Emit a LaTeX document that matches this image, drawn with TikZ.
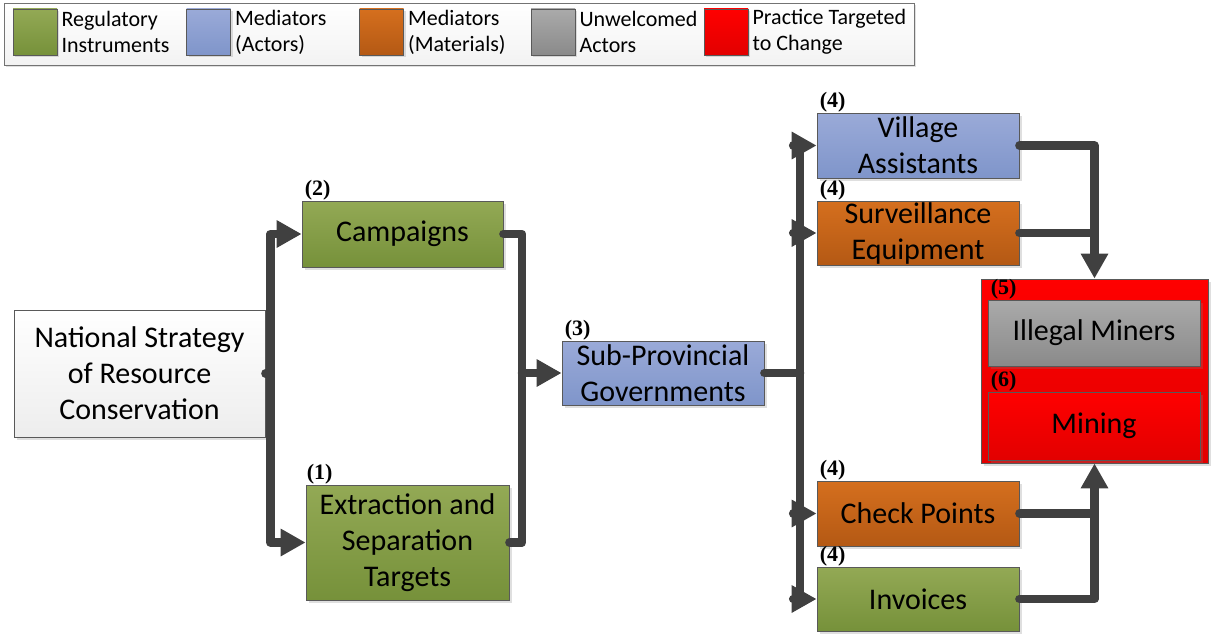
\documentclass[tikz,border=0pt]{standalone}
\usepackage{fontspec}
\setmainfont{Carlito}
\newfontfamily\numfont{Liberation Serif}
\usetikzlibrary{arrows.meta, positioning, shadows}

\definecolor{greentop}{HTML}{93A955}
\definecolor{greenbot}{HTML}{76913A}
\definecolor{bluetop}{HTML}{9AAAD8}
\definecolor{bluebot}{HTML}{7F95CA}
\definecolor{orangetop}{HTML}{D56F1E}
\definecolor{orangebot}{HTML}{B45914}
\definecolor{graytop}{HTML}{AAAAAA}
\definecolor{graybot}{HTML}{8A8A8A}
\definecolor{redtop}{HTML}{FF0000}
\definecolor{redbot}{HTML}{E20000}
\definecolor{linegray}{HTML}{404040}

\tikzset{
  box/.style={draw=black!65, line width=0.8pt, inner sep=0pt, align=center,
    font=\fontsize{30}{36}\selectfont,
    drop shadow={shadow xshift=3pt, shadow yshift=-3pt, opacity=0.25}},
  plain/.style={box, top color=white, bottom color=black!7},
  regul/.style={box, top color=greentop, bottom color=greenbot},
  actor/.style={box, top color=bluetop, bottom color=bluebot},
  material/.style={box, top color=orangetop, bottom color=orangebot},
  unwelcome/.style={box, top color=graytop, bottom color=graybot},
  practice/.style={box, top color=redtop, bottom color=redbot},
  swatch/.style={draw=black!65, line width=0.8pt, minimum width=44, minimum height=46,
    drop shadow={shadow xshift=2pt, shadow yshift=-2pt, opacity=0.25}},
  legtext/.style={inner sep=0pt, align=left, font=\fontsize{22}{26}\selectfont},
  numlabel/.style={inner sep=0pt, anchor=south west, font=\numfont\bfseries\fontsize{22}{22}\selectfont},
  conn/.style={draw=linegray, line width=8.5pt, line cap=round, line join=round},
  toarrow/.style={-{Triangle[length=25pt,width=26pt]}},
}

\begin{document}
\begin{tikzpicture}[x=1pt, y=-1pt]
  \useasboundingbox (0,0) rectangle (1212,634);

  % legend
  \node[draw=black!55, line width=0.8pt, top color=white, bottom color=black!5,
        minimum width=910, minimum height=62, inner sep=0pt,
        drop shadow={shadow xshift=2pt, shadow yshift=-2pt, opacity=0.25}] (legend) at (459,34) {};
  \node[swatch, top color=greentop, bottom color=greenbot] (sw1) at (35,32) {};
  \node[swatch, top color=bluetop, bottom color=bluebot] (sw2) at (208.5,32) {};
  \node[swatch, top color=orangetop, bottom color=orangebot] (sw3) at (381.5,32) {};
  \node[swatch, top color=graytop, bottom color=graybot] (sw4) at (553,32) {};
  \node[swatch, top color=redtop, bottom color=redbot] (sw5) at (726,32) {};
  \node[legtext, right=4pt of sw1] (lt1) {Regulatory\\Instruments};
  \node[legtext, right=4pt of sw2] (lt2) {Mediators\\(Actors)};
  \node[legtext, right=4pt of sw3] (lt3) {Mediators\\(Materials)};
  \node[legtext, right=4pt of sw4] (lt4) {Unwelcomed\\Actors};
  \node[legtext, right=4pt of sw5] (lt5) {Practice Targeted\\to Change};

  % boxes
  \node[plain, minimum width=251, minimum height=127] (nat) at (139.5,373.5)
    {National Strategy\\of Resource\\Conservation};
  \node[regul, minimum width=201, minimum height=66] (camp) at (402.5,234) {Campaigns};
  \node[regul, minimum width=203, minimum height=115] (extr) at (407.5,542.5)
    {Extraction and\\Separation\\Targets};
  \node[actor, minimum width=202, minimum height=64] (subprov) at (663,373)
    {Sub-Provincial\\Governments};
  \node[actor, minimum width=202, minimum height=65] (vill) at (918,145.5)
    {Village\\Assistants};
  \node[material, minimum width=202, minimum height=64] (surv) at (918,233)
    {Surveillance\\Equipment};
  \node[material, minimum width=202, minimum height=65] (check) at (918,513.5) {Check Points};
  \node[regul, minimum width=202, minimum height=64] (invoice) at (918,599) {Invoices};
  \node[practice, minimum width=227, minimum height=184] (target) at (1094.5,371) {};
  \node[unwelcome, minimum width=212, minimum height=66] (miners) at (1094,333) {Illegal Miners};
  \node[practice, minimum width=212, minimum height=68] (mining) at (1094,426) {Mining};

  % numbers
  \node[numlabel] (ncamp) at ([xshift=3pt]camp.north west) {(2)};
  \node[numlabel] (nextr) at ([xshift=1pt]extr.north west) {(1)};
  \node[numlabel] (nsub) at ([xshift=3pt]subprov.north west) {(3)};
  \node[numlabel] (nvill) at ([xshift=3pt]vill.north west) {(4)};
  \node[numlabel] (nsurv) at ([xshift=3pt]surv.north west) {(4)};
  \node[numlabel] (ncheck) at ([xshift=3pt]check.north west) {(4)};
  \node[numlabel] (ninv) at ([xshift=3pt]invoice.north west) {(4)};
  \node[numlabel] (nminers) at ([xshift=3pt]miners.north west) {(5)};
  \node[numlabel] (nmining) at ([xshift=3pt]mining.north west) {(6)};

  % connectors
  \coordinate (jl) at (522,373);
  \coordinate (jr) at (800,373);

  \path[conn] (nat.east) -- ++(5,0) coordinate (bus);
  \path[conn, toarrow] (bus) |- (camp.west);
  \path[conn, toarrow] (bus) |- (extr.west);

  \path[conn] (camp.east) -| (jl);
  \path[conn] (extr.east) -| (jl);
  \path[conn, toarrow] (jl) -- (subprov.west);

  \path[conn] (subprov.east) -- (jr);
  \path[conn, toarrow] (jr) |- (vill.west);
  \path[conn, toarrow] (jr) |- (surv.west);
  \path[conn, toarrow] (jr) |- (check.west);
  \path[conn, toarrow] (jr) |- (invoice.west);

  \path[conn, toarrow] (vill.east) -| (target.north);
  \path[conn] (surv.east) -- (surv.east -| target.north);
  \path[conn, toarrow] (invoice.east) -| (target.south);
  \path[conn] (check.east) -- (check.east -| target.south);
\end{tikzpicture}
\end{document}
